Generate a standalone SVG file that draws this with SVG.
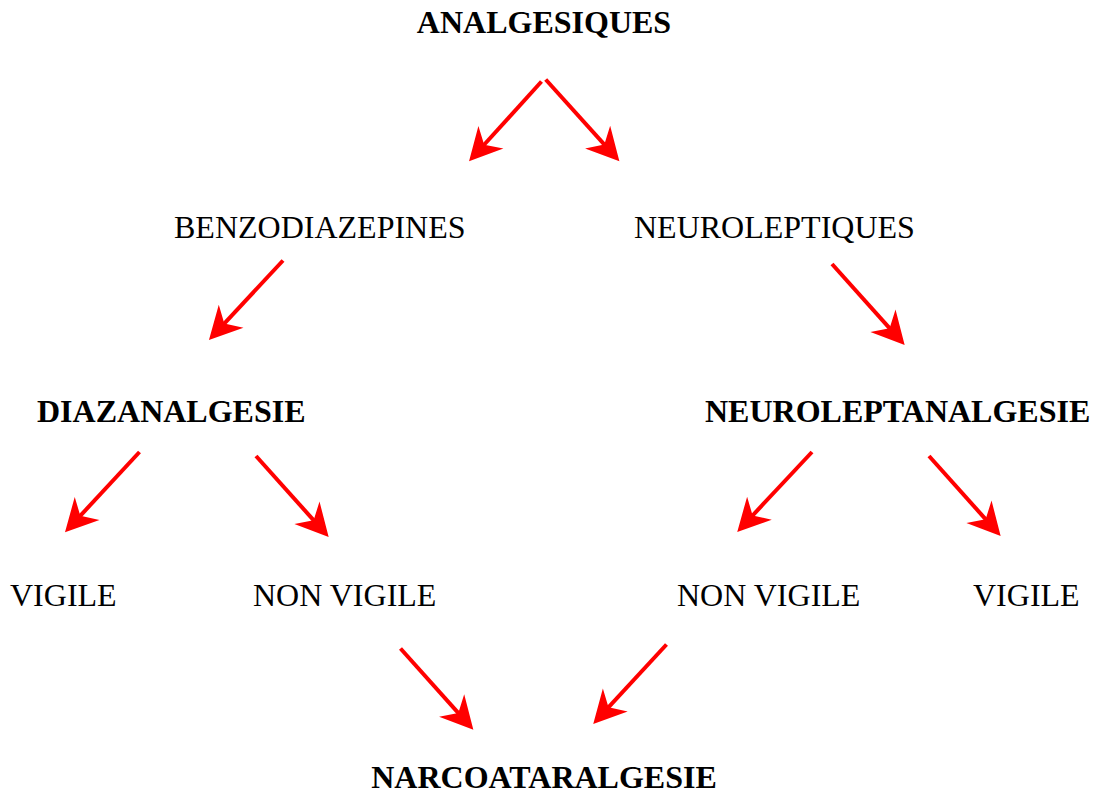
<svg xmlns="http://www.w3.org/2000/svg" width="1101" height="792" viewBox="0 0 1101 792">
  <style>
    text { font-family: "Liberation Serif", "Times New Roman", serif; font-size: 32px; fill: #000; }
    .b { font-weight: bold; }
    .arrow { stroke: #ff0000; stroke-width: 4; fill: none; marker-end: url(#head); }
  </style>
  <defs>
    <marker id="head" markerUnits="userSpaceOnUse" orient="auto" refX="0" refY="0" markerWidth="40" markerHeight="40" viewBox="-12 -16 30 32" overflow="visible">
      <path d="M16,0 L-10,-13.5 L-2,0 L-10,13.5 Z" fill="#ff0000"/>
    </marker>
  </defs>
  <rect width="1101" height="792" fill="#fff"/>

  <g id="analgesiques"><text class="b" x="544" y="33" text-anchor="middle">ANALGESIQUES</text></g>
  <g id="benzodiazepines"><text x="174" y="238">BENZODIAZEPINES</text></g>
  <g id="neuroleptiques"><text x="634" y="238">NEUROLEPTIQUES</text></g>
  <g id="diazanalgesie"><text class="b" x="37" y="422">DIAZANALGESIE</text></g>
  <g id="neuroleptanalgesie"><text class="b" x="705" y="422">NEUROLEPTANALGESIE</text></g>
  <g id="vigile-left"><text x="10" y="606">VIGILE</text></g>
  <g id="non-vigile-left"><text x="253" y="606">NON VIGILE</text></g>
  <g id="non-vigile-right"><text x="677" y="606">NON VIGILE</text></g>
  <g id="vigile-right"><text x="973" y="606">VIGILE</text></g>
  <g id="narcoataralgesie"><text class="b" x="544" y="788" text-anchor="middle">NARCOATARALGESIE</text></g>

  <g id="connectors">
    <line class="arrow" x1="541.5" y1="81.5" x2="482.5" y2="146.5"/>
    <line class="arrow" x1="545.7" y1="79.5" x2="606" y2="146.4"/>
    <line class="arrow" x1="283" y1="260.5" x2="222.6" y2="325.3"/>
    <line class="arrow" x1="832" y1="264" x2="891.3" y2="330.1"/>
    <line class="arrow" x1="139.5" y1="452" x2="78.6" y2="517.6"/>
    <line class="arrow" x1="256" y1="456" x2="315.3" y2="522.1"/>
    <line class="arrow" x1="812" y1="452" x2="750.9" y2="517.3"/>
    <line class="arrow" x1="929" y1="456" x2="987.3" y2="521.1"/>
    <line class="arrow" x1="400.5" y1="648.5" x2="460" y2="714.8"/>
    <line class="arrow" x1="666.5" y1="644.5" x2="606.8" y2="709.2"/>
  </g>
</svg>
